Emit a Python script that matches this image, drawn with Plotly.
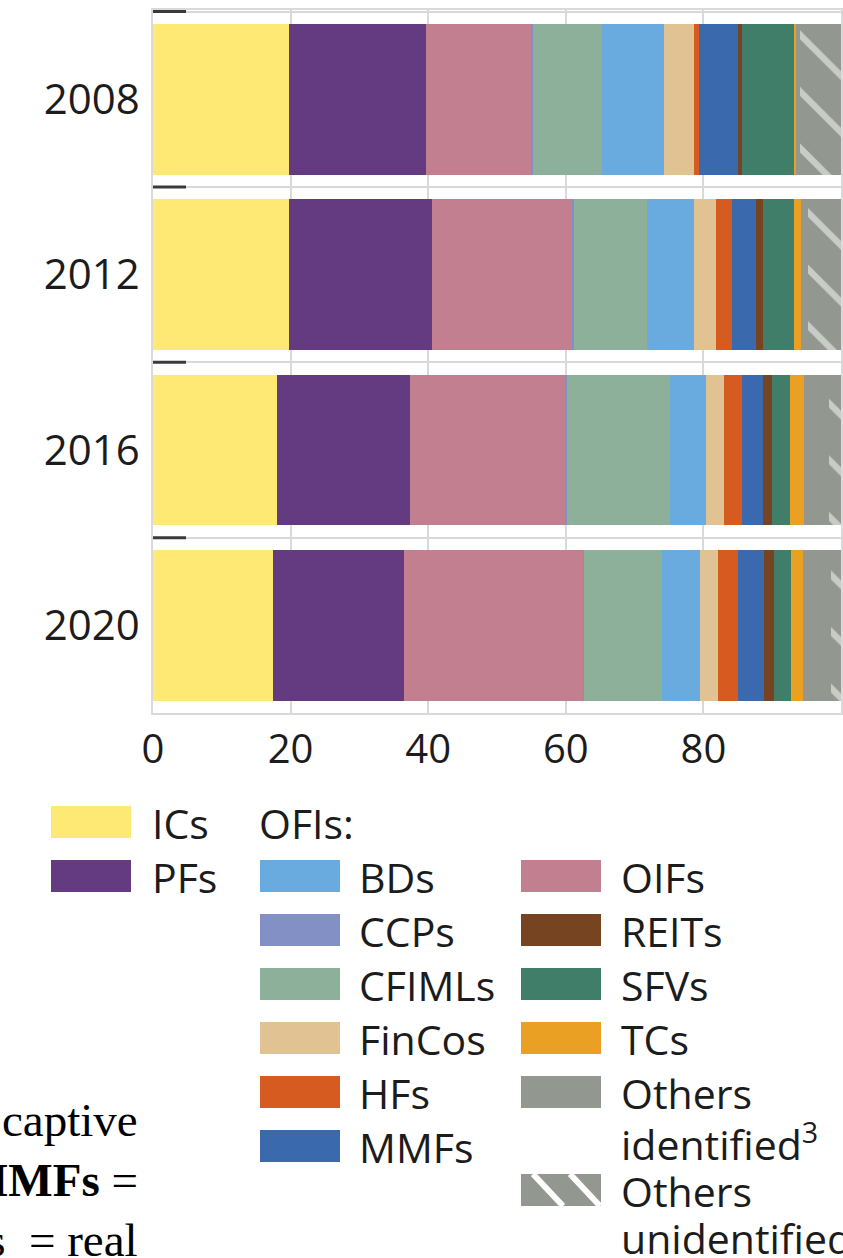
"""
Financial assets by sector - stacked share bars (2008-2020)
"""

import plotly.graph_objects as go

# categories
years = ["2008", "2012", "2016", "2020"]

# shares in %
ics = [19.8, 19.8, 18.0, 17.5]
pfs = [19.9, 20.7, 19.4, 19.0]
oifs = [15.3, 20.5, 22.6, 26.0]
ccps = [0.2, 0.2, 0.2, 0.2]
cfimls = [10.1, 10.6, 14.9, 11.3]
bds = [9.0, 6.8, 5.3, 5.5]
fincos = [4.3, 3.2, 2.6, 2.6]
hfs = [0.7, 2.4, 2.6, 2.9]
mmfs = [5.7, 3.4, 3.1, 3.8]
reits = [0.6, 1.1, 1.2, 1.4]
sfvs = [7.5, 4.4, 2.7, 2.6]
tcs = [0.3, 1.1, 2.0, 1.7]
others_identified = [0.6, 1.0, 3.6, 4.1]
others_unidentified = [6.0, 4.8, 1.8, 1.4]

x_ticks = [0, 20, 40, 60, 80]

# legend columns
legend_col1 = ["ICs", "PFs"]
legend_col2 = ["BDs", "CCPs", "CFIMLs", "FinCos", "HFs", "MMFs"]
legend_col3 = ["OIFs", "REITs", "SFVs", "TCs", "Others identified", "Others unidentified"]

GREY = "#92978f"
colors = {
    "ICs": "#fee974",
    "PFs": "#643b80",
    "OIFs": "#c27f8f",
    "CCPs": "#8390c5",
    "CFIMLs": "#8db09a",
    "BDs": "#6aabdf",
    "FinCos": "#e1c292",
    "HFs": "#d55b20",
    "MMFs": "#3a6aad",
    "REITs": "#774422",
    "SFVs": "#417e6a",
    "TCs": "#e9a023",
    "Others identified": GREY,
    "Others unidentified": GREY,
}

segments = [
    ("ICs", ics), ("PFs", pfs), ("OIFs", oifs), ("CCPs", ccps),
    ("CFIMLs", cfimls), ("BDs", bds), ("FinCos", fincos), ("HFs", hfs),
    ("MMFs", mmfs), ("REITs", reits), ("SFVs", sfvs), ("TCs", tcs),
    ("Others identified", others_identified),
    ("Others unidentified", others_unidentified),
]

SANS = "Open Sans"
SERIF = "Liberation Serif"
TEXT = "#1c1c1c"

# page size and plot area in pixels (body margin is removed in the html)
W, H = 843, 1258
L, R, T, B = 153, 841, 10, 713


def px(x):
    return (x - L) / (R - L)


def py(y):
    return (B - y) / (B - T)


fig = go.Figure()

for name, vals in segments:
    marker = dict(color=colors[name], line=dict(width=0))
    if name == "Others unidentified":
        marker["pattern"] = dict(shape="\\", fgcolor="white", size=40, solidity=0.16)
    fig.add_trace(go.Bar(y=years, x=vals, orientation="h", name=name,
                         marker=marker, showlegend=False))

fig.update_layout(
    barmode="stack",
    bargap=0.14,
    width=W, height=H,
    margin=dict(l=L, r=W - R, t=T, b=H - B, autoexpand=False),
    plot_bgcolor="white",
    paper_bgcolor="white",
    font=dict(family=SANS, color=TEXT),
    showlegend=False,
)

fig.update_xaxes(
    range=[0, 100],
    tickvals=x_ticks,
    tickfont=dict(size=40, family=SANS, color=TEXT),
    showgrid=True, gridcolor="#d9d9d9", gridwidth=1.5,
    showline=True, linecolor="#d9d9d9", linewidth=1.5, mirror=True,
    zeroline=False,
    ticks="", ticklabelstandoff=0,
)
fig.update_yaxes(
    categoryorder="array", categoryarray=years,
    autorange="reversed",
    tickson="boundaries",
    showgrid=True, gridcolor="#d9d9d9", gridwidth=1.5,
    showline=True, linecolor="#d9d9d9", linewidth=1.5, mirror=True,
    tickfont=dict(size=42, family=SANS, color=TEXT),
    ticks="", ticklabelstandoff=3,
)

# short dark dashes at the top of every category band
for i, _ in enumerate(years):
    fig.add_shape(type="line", xref="paper", yref="y",
                  x0=0, x1=px(186), y0=i - 0.5, y1=i - 0.5,
                  line=dict(color="#3a3a3a", width=3))

# custom legend
SW_W, SW_H = 80, 32
ROW0, PITCH, LINE = 822, 54, 47


def swatch(x_left, yc, color, hatched=False):
    fig.add_shape(type="rect", xref="paper", yref="paper",
                  x0=px(x_left), x1=px(x_left + SW_W),
                  y0=py(yc + SW_H / 2), y1=py(yc - SW_H / 2),
                  fillcolor=color, line=dict(width=0), layer="above")
    if hatched:
        for off in (12, 49):
            fig.add_shape(type="line", xref="paper", yref="paper",
                          x0=px(x_left + off), x1=px(x_left + off + 30),
                          y0=py(yc - SW_H / 2), y1=py(yc + SW_H / 2),
                          line=dict(color="white", width=6), layer="above")


def label(x_left, yc, lines):
    for j, txt in enumerate(lines):
        fig.add_annotation(xref="paper", yref="paper", x=px(x_left),
                           y=py(yc + LINE * j - 29),
                           xanchor="left", yanchor="top", showarrow=False,
                           text=txt, align="left",
                           font=dict(size=41, family=SANS, color=TEXT))


for k, name in enumerate(legend_col1):
    yc = ROW0 + PITCH * k
    swatch(51, yc, colors[name])
    label(150, yc, [name])

label(257, ROW0, ["OFIs:"])
for k, name in enumerate(legend_col2):
    yc = ROW0 + PITCH * (k + 1)
    swatch(260, yc, colors[name])
    label(357, yc, [name])

for k, name in enumerate(legend_col3):
    yc = ROW0 + PITCH * (k + 1)
    if name == "Others unidentified":
        yc = ROW0 + PITCH * k + 98
        lines = ["Others", "unidentified"]
    elif name == "Others identified":
        lines = ["Others", "identified<sup>3</sup>"]
    else:
        lines = [name]
    swatch(521, yc, colors[name], hatched=(name == "Others unidentified"))
    label(619, yc, lines)

# fragments of the footnote text on the left
notes = ["captive", "<b>MMFs</b> =", "REITs\u2002= real"]
for k, txt in enumerate(notes):
    fig.add_annotation(xref="paper", yref="paper", x=px(140), y=py(1148 + 60 * k),
                       xanchor="right", yanchor="bottom", showarrow=False,
                       text=txt, font=dict(size=47, family=SERIF, color="black"))

fig.write_html("out.html", config={"displayModeBar": False},
               post_script="document.body.style.margin = '0';")
